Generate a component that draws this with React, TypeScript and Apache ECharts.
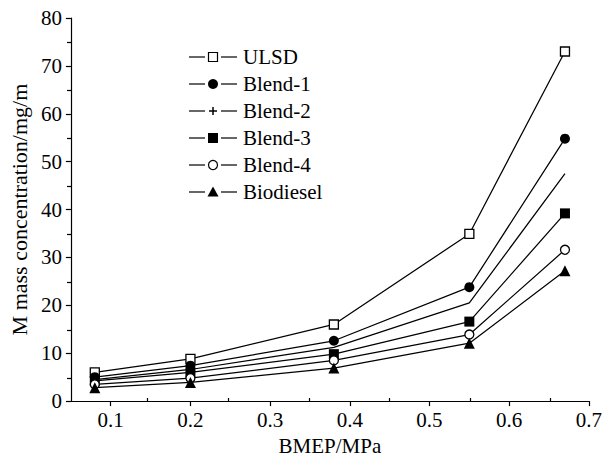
import React, { useEffect, useRef } from 'react';
import * as echarts from 'echarts';

const bmep = [0.08, 0.2, 0.38, 0.55, 0.67];
const ulsd = [6.0, 8.8, 16.0, 34.9, 73.0];
const blend1 = [5.0, 7.4, 12.6, 23.8, 54.8];
const blend2 = [4.5, 6.6, 11.2, 20.5, 47.5];
const blend3 = [4.2, 6.0, 9.8, 16.6, 39.2];
const blend4 = [3.5, 4.8, 8.5, 13.9, 31.6];
const biodiesel = [2.8, 3.9, 6.9, 12.1, 27.2];
const seriesNames = ['ULSD', 'Blend-1', 'Blend-2', 'Blend-3', 'Blend-4', 'Biodiesel'];

const xMajorTicks = [0.1, 0.2, 0.3, 0.4, 0.5, 0.6, 0.7];
const xMinorTicks = [0.15, 0.25, 0.35, 0.45, 0.55, 0.65];
const yMajorTicks = [0, 10, 20, 30, 40, 50, 60, 70, 80];
const yMinorTicks = [5, 15, 25, 35, 45, 55, 65, 75];

const FONT = '"Liberation Serif", "Times New Roman", serif';
const PLUS = 'path://M4,0 L6,0 L6,4 L10,4 L10,6 L6,6 L6,10 L4,10 L4,6 L0,6 L0,4 L4,4 Z';

function legendMarker(kind: string, cx: number, cy: number): any[] {
  const stroke = { stroke: '#000', lineWidth: 1.2 };
  switch (kind) {
    case 'openRect':
      return [{ type: 'rect', shape: { x: cx - 4.5, y: cy - 4.5, width: 9, height: 9 }, style: { fill: '#fff', ...stroke } }];
    case 'dot':
      return [{ type: 'circle', shape: { cx, cy, r: 5 }, style: { fill: '#000' } }];
    case 'plus':
      return [
        { type: 'line', shape: { x1: cx - 4, y1: cy, x2: cx + 4, y2: cy }, style: { stroke: '#000', lineWidth: 1.5 } },
        { type: 'line', shape: { x1: cx, y1: cy - 4, x2: cx, y2: cy + 4 }, style: { stroke: '#000', lineWidth: 1.5 } },
      ];
    case 'fillRect':
      return [{ type: 'rect', shape: { x: cx - 5, y: cy - 5, width: 10, height: 10 }, style: { fill: '#000' } }];
    case 'openCircle':
      return [{ type: 'circle', shape: { cx, cy, r: 4.5 }, style: { fill: '#fff', ...stroke } }];
    default:
      return [{ type: 'polygon', shape: { points: [[cx, cy - 5.5], [cx + 5.5, cy + 4.5], [cx - 5.5, cy + 4.5]] }, style: { fill: '#000' } }];
  }
}

export default function App() {
  const ref = useRef<HTMLDivElement>(null);
  useEffect(() => {
    if (!ref.current) return;
    const chart = echarts.init(ref.current, undefined, { renderer: 'svg' });
    const zip = (vals: number[]) => bmep.map((x, i) => [x, vals[i]]);
    const mk = (name: string, vals: number[], symbol: string, fill: string, size: number, hideSymbols = false) => ({
      name,
      type: 'line',
      xAxisIndex: 0,
      yAxisIndex: 0,
      data: hideSymbols ? zip(vals).map((v) => ({ value: v, symbol: 'none' })) : zip(vals),
      symbol,
      symbolSize: size,
      showAllSymbol: true,
      lineStyle: { color: '#000', width: 1.25 },
      itemStyle: { color: fill, borderColor: '#000', borderWidth: fill === '#fff' ? 1.3 : 0 },
      emphasis: { disabled: true },
      silent: true,
    });
    const grid = { left: 67, right: 14, top: 18, bottom: 59, containLabel: false };
    const text = { fontFamily: FONT, fontSize: 21, color: '#000' };
    const kinds = ['openRect', 'dot', 'plus', 'fillRect', 'openCircle', 'tri'];
    const legendItems: any[] = [];
    seriesNames.forEach((name, i) => {
      const cy = 57 + 27 * i;
      legendItems.push(
        { type: 'line', shape: { x1: 189, y1: cy, x2: 205, y2: cy }, style: { stroke: '#000', lineWidth: 1.2 } },
        { type: 'line', shape: { x1: 221, y1: cy, x2: 237, y2: cy }, style: { stroke: '#000', lineWidth: 1.2 } },
        ...legendMarker(kinds[i], 213, cy),
        {
          type: 'text',
          x: 243,
          y: cy,
          style: { text: name, fontFamily: FONT, fontSize: 21, fill: '#000', verticalAlign: 'middle', align: 'left' },
        },
      );
    });
    chart.setOption({
      animation: false,
      backgroundColor: '#fff',
      textStyle: { fontFamily: FONT },
      grid: [grid, { ...grid }],
      graphic: [{ type: 'group', silent: true, children: legendItems }],
      xAxis: [
        {
          type: 'value',
          gridIndex: 0,
          min: 0.05,
          max: 0.7,
          name: 'BMEP/MPa',
          nameLocation: 'middle',
          nameGap: 26,
          nameTextStyle: text,
          splitLine: { show: false },
          axisLine: { lineStyle: { color: '#000', width: 1.2 } },
          axisTick: { inside: false, length: 5, customValues: xMajorTicks, lineStyle: { color: '#000', width: 1.2 } },
          axisLabel: { ...text, margin: 8, customValues: xMajorTicks, formatter: (v: number) => v.toFixed(1) },
        },
        {
          type: 'value',
          gridIndex: 1,
          min: 0.05,
          max: 0.7,
          splitLine: { show: false },
          axisLine: { show: false },
          axisTick: { inside: true, length: 4, customValues: xMinorTicks, lineStyle: { color: '#000', width: 1.2 } },
          axisLabel: { show: false },
        },
      ],
      yAxis: [
        {
          type: 'value',
          gridIndex: 0,
          min: 0,
          max: 80,
          name: 'M mass concentration/mg/m',
          nameLocation: 'middle',
          nameGap: 34,
          nameTextStyle: { ...text, fontSize: 22 },
          splitLine: { show: false },
          axisLine: { show: true, lineStyle: { color: '#000', width: 1.2 } },
          axisTick: { show: true, inside: false, length: 5, customValues: yMajorTicks, lineStyle: { color: '#000', width: 1.2 } },
          axisLabel: { ...text, margin: 9, customValues: yMajorTicks },
        },
        {
          type: 'value',
          gridIndex: 1,
          min: 0,
          max: 80,
          splitLine: { show: false },
          axisLine: { show: false },
          axisTick: { show: true, inside: true, length: 4, customValues: yMinorTicks, lineStyle: { color: '#000', width: 1.2 } },
          axisLabel: { show: false },
        },
      ],
      series: [
        mk(seriesNames[0], ulsd, 'rect', '#fff', 9),
        mk(seriesNames[1], blend1, 'circle', '#000', 10),
        mk(seriesNames[2], blend2, PLUS, '#000', 9, true),
        mk(seriesNames[3], blend3, 'rect', '#000', 10),
        mk(seriesNames[4], blend4, 'circle', '#fff', 9),
        mk(seriesNames[5], biodiesel, 'triangle', '#000', 11),
      ],
    });
    return () => chart.dispose();
  }, []);
  return <div ref={ref} style={{ position: 'fixed', left: 0, top: 0, width: 605, height: 461 }} />;
}
